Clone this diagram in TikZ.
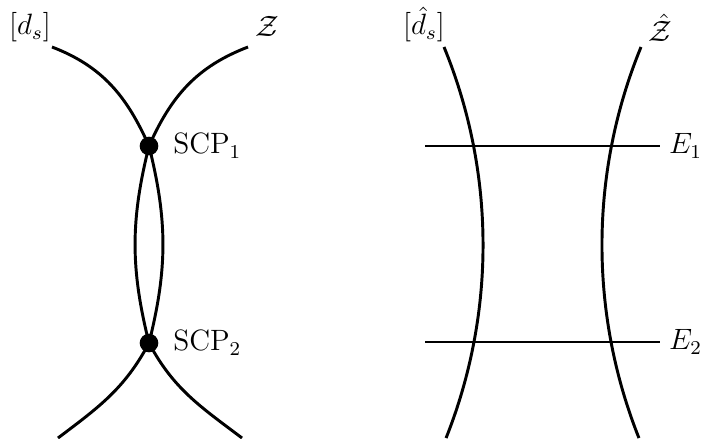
\documentclass[tikz,border=0pt]{standalone}
\usetikzlibrary{positioning}
\begin{document}
\begin{tikzpicture}[x=0.408pt,y=0.408pt,
 every node/.append style={font=\fontsize{11.5pt}{14pt}\selectfont},
 curve/.style={line width=1.2pt},
 scp/.style={circle,fill,inner sep=0pt,minimum size=7.6pt},
 lbl/.style={inner sep=0pt,anchor=base}]
\useasboundingbox (0,0) rectangle (704,438);
% left picture: two branches through the critical points
\node[scp] (scp1) at (149,292) {};
\node[scp] (scp2) at (149,95) {};
\node[right=2.4pt of scp1] (scp1lbl) {$\mathrm{SCP}_1$};
\node[right=2.4pt of scp2] (scp2lbl) {$\mathrm{SCP}_2$};
\coordinate (dstop) at (52,391); \coordinate (dsbot) at (58,0);
\coordinate (ztop) at (248,391); \coordinate (zbot) at (242,0);
\draw[curve] (dstop) to[out=-21,in=114] (scp1.center) to[out=-76,in=76] (scp2.center)
 to[out=-118,in=37] (dsbot);
\draw[curve] (ztop) to[out=-159,in=66] (scp1.center) to[out=-104,in=104] (scp2.center)
 to[out=-62,in=143] (zbot);
\node[lbl] (dslbl) at (30,403) {$[d_s]$};
\node[lbl] (zlbl) at (267,401) {$\mathcal{Z}$};
% right picture: the deformed branches (circle arcs) and the two levels
\coordinate (dhtop) at (444,391); \coordinate (zhtop) at (641,391);
\draw[curve] (dhtop) arc[start angle=22.3,end angle=-21.7,radius=522];
\draw[curve] (zhtop) arc[start angle=157.7,end angle=201.7,radius=522];
\node[lbl] (dhlbl) at (424,403) {$[\hat{d}_s]$};
\node[lbl] (zhlbl) at (660,396) {$\hat{\mathcal{Z}}$};
\node[anchor=west,inner sep=3.5pt] (e1) at (660,292) {$E_1$};
\node[anchor=west,inner sep=3.5pt] (e2) at (660,96) {$E_2$};
\coordinate (e1start) at (425,292); \coordinate (e2start) at (425,96);
\foreach \a/\b in {e1start/e1,e2start/e2} \draw[curve] (\a)--(\b);
\end{tikzpicture}
\end{document}
